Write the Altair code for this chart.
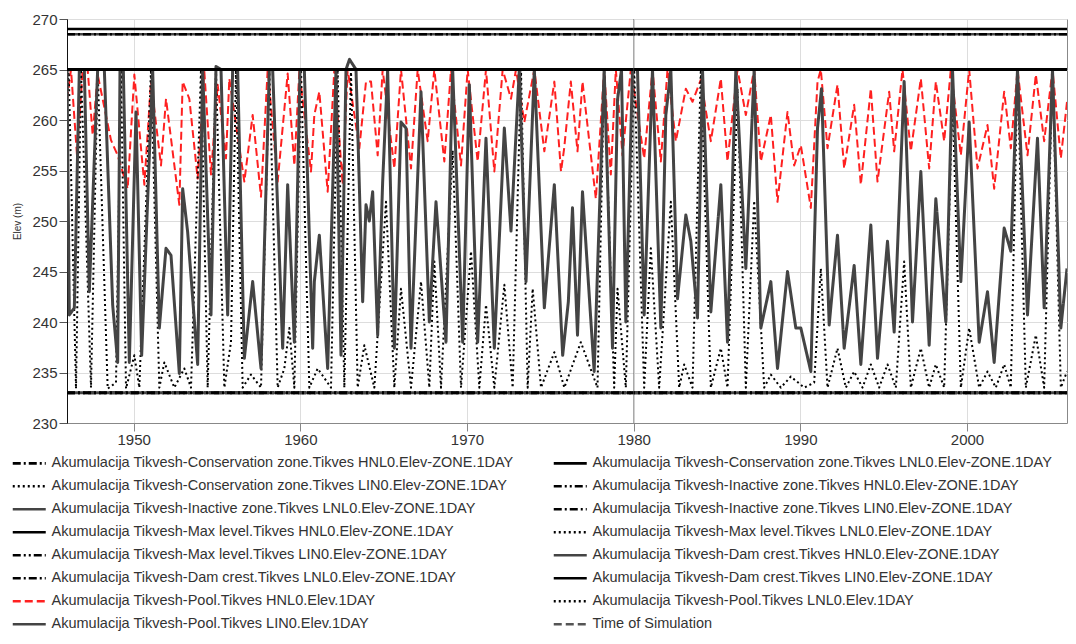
import altair as alt
import pandas as pd

# ---------------- data ----------------
SERIES = [
    "Akumulacija Tikvesh-Conservation zone.Tikves HNL0.Elev-ZONE.1DAY",
    "Akumulacija Tikvesh-Conservation zone.Tikves LNL0.Elev-ZONE.1DAY",
    "Akumulacija Tikvesh-Conservation zone.Tikves LIN0.Elev-ZONE.1DAY",
    "Akumulacija Tikvesh-Inactive zone.Tikves HNL0.Elev-ZONE.1DAY",
    "Akumulacija Tikvesh-Inactive zone.Tikves LNL0.Elev-ZONE.1DAY",
    "Akumulacija Tikvesh-Inactive zone.Tikves LIN0.Elev-ZONE.1DAY",
    "Akumulacija Tikvesh-Max level.Tikves HNL0.Elev-ZONE.1DAY",
    "Akumulacija Tikvesh-Max level.Tikves LNL0.Elev-ZONE.1DAY",
    "Akumulacija Tikvesh-Max level.Tikves LIN0.Elev-ZONE.1DAY",
    "Akumulacija Tikvesh-Dam crest.Tikves HNL0.Elev-ZONE.1DAY",
    "Akumulacija Tikvesh-Dam crest.Tikves LNL0.Elev-ZONE.1DAY",
    "Akumulacija Tikvesh-Dam crest.Tikves LIN0.Elev-ZONE.1DAY",
    "Akumulacija Tikvesh-Pool.Tikves HNL0.Elev.1DAY",
    "Akumulacija Tikvesh-Pool.Tikves LNL0.Elev.1DAY",
    "Akumulacija Tikvesh-Pool.Tikves LIN0.Elev.1DAY",
    "Time of Simulation",
]

# constant zone levels (m)
ZONE_LEVELS = {
    SERIES[0]: 265, SERIES[1]: 265, SERIES[2]: 265,
    SERIES[3]: 233, SERIES[4]: 233, SERIES[5]: 233,
    SERIES[6]: 265, SERIES[7]: 265, SERIES[8]: 265,
}
CREST_LEVELS = {SERIES[9]: 268.5, SERIES[10]: 268.5, SERIES[11]: 269.0}
LEVEL_YEARS = [1946.0, 2006.0]
TIME_OF_SIMULATION = [1980.0]

# Pool HNL0 (red dashed)
pool_hnl0 = [
    (1946.0, 262), (1946.24, 265), (1946.6, 256.5), (1946.94, 265), (1947.24, 265), (1947.54, 258.5),
    (1947.84, 264.5), (1948.64, 258), (1949.04, 256.5), (1949.64, 253.2), (1950.04, 264.5), (1950.64, 253.6),
    (1951.04, 263.8), (1951.64, 255.5), (1951.94, 262.1), (1952.74, 251.6), (1952.94, 263.8), (1953.34, 262.1),
    (1953.84, 254.2), (1954.24, 264.8), (1954.64, 254.6), (1955.04, 263.5), (1955.54, 256.2), (1955.74, 264.1),
    (1956.64, 253.9), (1957.14, 260.5), (1957.64, 252.4), (1958.04, 265), (1958.64, 253.9), (1959.24, 264.6),
    (1959.64, 255.5), (1959.94, 264.8), (1960.64, 254.9), (1960.84, 260.5), (1961.14, 262.8), (1961.64, 252.9),
    (1962.04, 265), (1962.54, 253.6), (1962.84, 265), (1963.54, 257.2), (1963.94, 263.8), (1964.24, 263.8),
    (1964.64, 256.5), (1964.94, 265), (1965.64, 255.2), (1966.04, 265), (1966.64, 255.2), (1967.04, 265),
    (1967.64, 257.9), (1968.04, 265), (1968.64, 255.9), (1969.04, 265), (1969.64, 255.5), (1970.04, 265),
    (1970.64, 255.9), (1971.14, 265), (1971.64, 254.9), (1972.14, 265), (1972.64, 262.1), (1972.94, 265),
    (1973.44, 259.8), (1974.04, 265), (1974.64, 256.9), (1975.24, 263.8), (1975.64, 254.9), (1975.83, 257.2),
    (1976.23, 263.8), (1976.63, 256.9), (1976.93, 263.8), (1977.73, 252.2), (1978.23, 265), (1978.63, 254.6),
    (1978.93, 265), (1979.33, 256.5), (1979.83, 265), (1980.63, 256.2), (1981.13, 265), (1981.63, 255.9),
    (1982.03, 265), (1982.53, 257.9), (1983.13, 263.1), (1983.53, 261.8), (1984.03, 264), (1984.63, 257.9),
    (1985.23, 264.1), (1985.63, 255.9), (1986.23, 265), (1986.73, 260.5), (1987.23, 265), (1987.63, 255.9),
    (1988.23, 260.5), (1988.63, 251.9), (1989.23, 260.8), (1989.63, 255.5), (1990.03, 257.5), (1990.63, 251.3),
    (1991.03, 263.8), (1991.23, 265), (1991.63, 257.2), (1992.23, 263.5), (1992.63, 255.2), (1993.23, 261.5),
    (1993.63, 253.6), (1994.23, 263.1), (1994.63, 253.9), (1995.33, 262.8), (1995.63, 256.9), (1996.13, 265),
    (1996.63, 256.9), (1997.23, 264.1), (1997.73, 255.2), (1998.13, 263.8), (1998.63, 257.9), (1999.03, 265),
    (1999.63, 256.5), (2000.13, 265), (2000.63, 255.2), (2001.23, 259.5), (2001.63, 253.2), (2002.23, 262.8),
    (2002.63, 257.2), (2003.03, 265), (2003.63, 256.5), (2004.13, 264.5), (2004.63, 257.9), (2005.13, 265),
    (2005.63, 256.2), (2006.0, 261.8),
]

# Pool LNL0 (black dotted)
pool_lnl0 = [
    (1946.0, 262), (1946.1, 265), (1946.54, 233.4), (1946.84, 265), (1947.44, 233.5), (1947.84, 265),
    (1948.44, 233.4), (1948.94, 234), (1949.24, 265), (1949.54, 233.4), (1950.04, 236.7), (1950.34, 233.5),
    (1951.04, 265), (1951.54, 233.5), (1951.84, 236), (1952.44, 233.5), (1953.04, 235.4), (1953.44, 233.5),
    (1954.04, 265), (1954.44, 233.5), (1954.94, 265), (1955.44, 233.5), (1955.84, 238), (1956.14, 265),
    (1956.54, 233.5), (1957.04, 234.8), (1957.64, 233.5), (1958.14, 265), (1958.64, 233.5), (1959.04, 235.4),
    (1959.34, 239.4), (1959.64, 233.5), (1960.04, 265), (1960.54, 233.5), (1961.04, 235.4), (1961.84, 233.5),
    (1962.24, 265), (1962.64, 233.5), (1963.04, 265), (1963.44, 233.5), (1963.84, 237.7), (1964.44, 233.5),
    (1965.14, 251.9), (1965.64, 233.5), (1966.04, 243.3), (1966.64, 233.5), (1967.24, 244), (1967.74, 233.5),
    (1968.04, 246), (1968.44, 233.5), (1969.14, 257), (1969.64, 233.5), (1970.24, 247), (1970.74, 233.5),
    (1971.14, 241.7), (1971.64, 233.5), (1972.24, 243.7), (1972.74, 233.5), (1973.24, 265), (1973.64, 233.5),
    (1973.94, 243.3), (1974.44, 233.5), (1975.24, 237), (1975.84, 233.5), (1976.83, 238), (1977.83, 233.5),
    (1978.23, 265), (1978.83, 233.5), (1979.03, 243.3), (1979.53, 233.5), (1980.03, 265), (1980.63, 233.5),
    (1981.03, 247.3), (1981.53, 233.5), (1982.23, 251.9), (1982.73, 233.5), (1983.03, 235.8), (1983.53, 233.5),
    (1984.03, 265), (1984.63, 233.5), (1985.23, 237.4), (1985.63, 233.5), (1986.23, 263.1), (1986.73, 233.5),
    (1987.23, 252), (1987.83, 233.5), (1988.23, 234.8), (1988.83, 233.5), (1989.43, 234.6), (1990.23, 233.5),
    (1990.83, 234), (1991.23, 245.3), (1991.63, 233.5), (1992.23, 237.4), (1992.73, 233.5), (1993.23, 235.1),
    (1993.73, 233.5), (1994.23, 235.8), (1994.73, 233.5), (1995.23, 235.8), (1995.73, 233.5), (1996.23, 246),
    (1996.63, 233.5), (1997.23, 237.4), (1997.73, 233.5), (1998.13, 235.8), (1998.63, 233.5), (1999.13, 262.2),
    (1999.63, 233.5), (2000.13, 239.4), (2000.73, 233.5), (2001.23, 235.1), (2001.73, 233.5), (2002.23, 235.8),
    (2002.63, 233.5), (2003.03, 265), (2003.53, 233.5), (2004.13, 238.7), (2004.63, 233.5), (2005.13, 265),
    (2005.63, 233.5), (2006.0, 235.1),
]

# Pool LIN0 (dark grey solid)
pool_lin0 = [
    (1946.0, 265), (1946.14, 240.7), (1946.44, 241.4), (1946.74, 265), (1947.04, 265), (1947.34, 243),
    (1947.84, 265), (1948.24, 265), (1948.74, 241.7), (1949.04, 236), (1949.18, 265), (1949.38, 265),
    (1949.74, 236), (1950.14, 260.8), (1950.48, 236.7), (1951.14, 265), (1951.54, 239.4), (1951.94, 247.3),
    (1952.24, 246.6), (1952.74, 234.9), (1952.94, 253.2), (1953.24, 248.9), (1953.84, 235.8), (1954.14, 265),
    (1954.64, 240.7), (1954.94, 265.3), (1955.24, 265), (1955.64, 240.7), (1955.94, 265), (1956.24, 265),
    (1956.64, 236.4), (1957.14, 244), (1957.64, 235.4), (1958.14, 265), (1958.34, 265), (1958.94, 237.4),
    (1959.24, 253.6), (1959.64, 238), (1959.98, 265), (1960.24, 265), (1960.74, 237.4), (1960.84, 244),
    (1961.14, 248.6), (1961.64, 235.4), (1962.14, 265), (1962.44, 236.7), (1962.74, 265), (1962.95, 266),
    (1963.34, 265), (1963.74, 242), (1963.94, 251.6), (1964.14, 250), (1964.34, 252.9), (1964.64, 238.7),
    (1964.94, 253.9), (1965.24, 265), (1965.64, 237.4), (1966.04, 259.8), (1966.34, 259.2), (1966.64, 237.4),
    (1967.24, 262.8), (1967.74, 240), (1968.14, 251.9), (1968.74, 238), (1969.14, 265), (1969.74, 238),
    (1970.14, 263.5), (1970.64, 238), (1971.14, 258.2), (1971.64, 237.4), (1972.24, 259.2), (1972.64, 249),
    (1973.14, 265), (1973.54, 244), (1974.04, 265), (1974.64, 241.4), (1975.24, 253.6), (1975.74, 236.7),
    (1976.08, 242), (1976.33, 251.3), (1976.63, 238.7), (1976.93, 252.9), (1977.63, 235.1), (1978.23, 265),
    (1978.73, 237.4), (1979.03, 262), (1979.27, 265), (1979.53, 240), (1979.93, 265), (1980.23, 265),
    (1980.63, 240.7), (1981.13, 265), (1981.63, 239.4), (1981.93, 260.5), (1982.23, 265), (1982.63, 242.3),
    (1983.13, 250.6), (1983.43, 248), (1983.83, 240.4), (1984.13, 265), (1984.63, 241), (1985.23, 253.6),
    (1985.63, 238), (1986.13, 265), (1986.73, 245.3), (1987.23, 265), (1987.63, 239.4), (1988.23, 244),
    (1988.63, 235.4), (1989.23, 245), (1989.73, 239.4), (1990.03, 239.4), (1990.63, 235.1), (1991.03, 259.2),
    (1991.27, 263.1), (1991.73, 239.7), (1992.23, 248.6), (1992.63, 237.4), (1993.23, 245.6), (1993.63, 235.8),
    (1994.23, 249.6), (1994.63, 236.4), (1995.23, 248), (1995.63, 239), (1996.23, 263.8), (1996.73, 240),
    (1997.23, 254.9), (1997.73, 237.7), (1998.13, 252.2), (1998.73, 240), (1999.13, 265), (1999.63, 244),
    (2000.13, 259.8), (2000.73, 238), (2001.23, 243), (2001.63, 236), (2002.23, 249.3), (2002.63, 247),
    (2003.03, 265), (2003.63, 240.7), (2004.23, 258.2), (2004.63, 241.4), (2005.13, 265), (2005.63, 239.4),
    (2006.0, 245.3),
]

X_TICKS = [1950, 1960, 1970, 1980, 1990, 2000]
Y_TICKS = [230, 235, 240, 245, 250, 255, 260, 265, 270]

# ---------------- styles ----------------
BLACK, GREY, RED = "#000000", "#444444", "#ff2020"
SOLID, DOT, DASH = [1, 0], [2, 3], [8, 4]
DASHDOT, DASHDOTDOT = [8, 3, 2, 3], [8, 3, 2, 3, 2, 3]
COLORS = [BLACK, BLACK, BLACK, BLACK, GREY, BLACK, BLACK, BLACK, BLACK, GREY, BLACK, BLACK,
          RED, BLACK, GREY, "#555555"]
DASHES = [DASHDOT, SOLID, DOT, DASHDOTDOT, SOLID, DASHDOT, SOLID, DOT, DASHDOTDOT, SOLID, DASHDOT, SOLID,
          DASH, DOT, SOLID, DASH]

FONT = "Liberation Sans"


def frame(name, pts):
    return pd.DataFrame({"series": name, "year": [p[0] for p in pts], "elev": [p[1] for p in pts]})


def levels(d):
    rows = []
    for name, v in d.items():
        for yr in LEVEL_YEARS:
            rows.append({"series": name, "year": yr, "elev": v})
    return pd.DataFrame(rows)


legend = alt.Legend(
    title=None, orient="none", legendX=-45, legendY=437, columns=2, direction="horizontal",
    symbolType="M-3.3,0H3.3", symbolSize=100, symbolStrokeWidth=2.6, symbolOpacity=1,
    labelOffset=15, labelFont=FONT, labelFontSize=14.5, labelColor="#333333", labelLimit=1000,
    rowPadding=8, columnPadding=34, padding=0,
)

x_enc = alt.X("year:Q", scale=alt.Scale(domain=[1946, 2006], nice=False, zero=False),
              axis=alt.Axis(values=X_TICKS, format="d", title=None, domainColor="#888888",
                            tickColor="#888888", labelPadding=1))
y_enc = alt.Y("elev:Q", scale=alt.Scale(domain=[230, 270], nice=False, zero=False),
              axis=alt.Axis(values=Y_TICKS, title="Elev (m)", titleFontSize=10, titleFont=FONT,
                            titleFontWeight="normal", titleColor="#333333", titlePadding=9,
                            domainColor="#111111", tickColor="#555555"))
color_enc = alt.Color("series:N", scale=alt.Scale(domain=SERIES, range=COLORS), legend=legend)
dash_enc = alt.StrokeDash("series:N", scale=alt.Scale(domain=SERIES, range=DASHES), legend=legend)


def line_layer(df, width):
    return alt.Chart(df).mark_line(strokeWidth=width, strokeJoin="round", clip=True).encode(
        x=x_enc, y=y_enc, color=color_enc, strokeDash=dash_enc, detail="series:N"
    )


red_layer = line_layer(frame(SERIES[12], pool_hnl0), 2)
dot_layer = line_layer(frame(SERIES[13], pool_lnl0), 2)
grey_layer = line_layer(frame(SERIES[14], pool_lin0), 3)
zone_layer = line_layer(levels(ZONE_LEVELS), 3)
crest_layer = line_layer(levels(CREST_LEVELS), 2.5)

tos_layer = alt.Chart(pd.DataFrame({"series": SERIES[15], "year": TIME_OF_SIMULATION})).mark_rule(
    strokeWidth=1, opacity=0.6
).encode(x=x_enc, color=color_enc, strokeDash=alt.value([1, 0]))

chart = alt.layer(red_layer, dot_layer, grey_layer, zone_layer, crest_layer, tos_layer).properties(
    width=1000, height=404,
    autosize=alt.AutoSizeParams(type="none"),
    padding={"left": 59, "top": 11, "right": 1, "bottom": 213},
).configure_view(
    stroke="#888888", strokeWidth=1
).configure_axis(
    labelFont=FONT, labelFontSize=15, labelColor="#333333", gridColor="#dddddd",
    tickSize=8, labelPadding=2,
)

chart.save("out.html", embed_options={"renderer": "svg", "actions": False})
